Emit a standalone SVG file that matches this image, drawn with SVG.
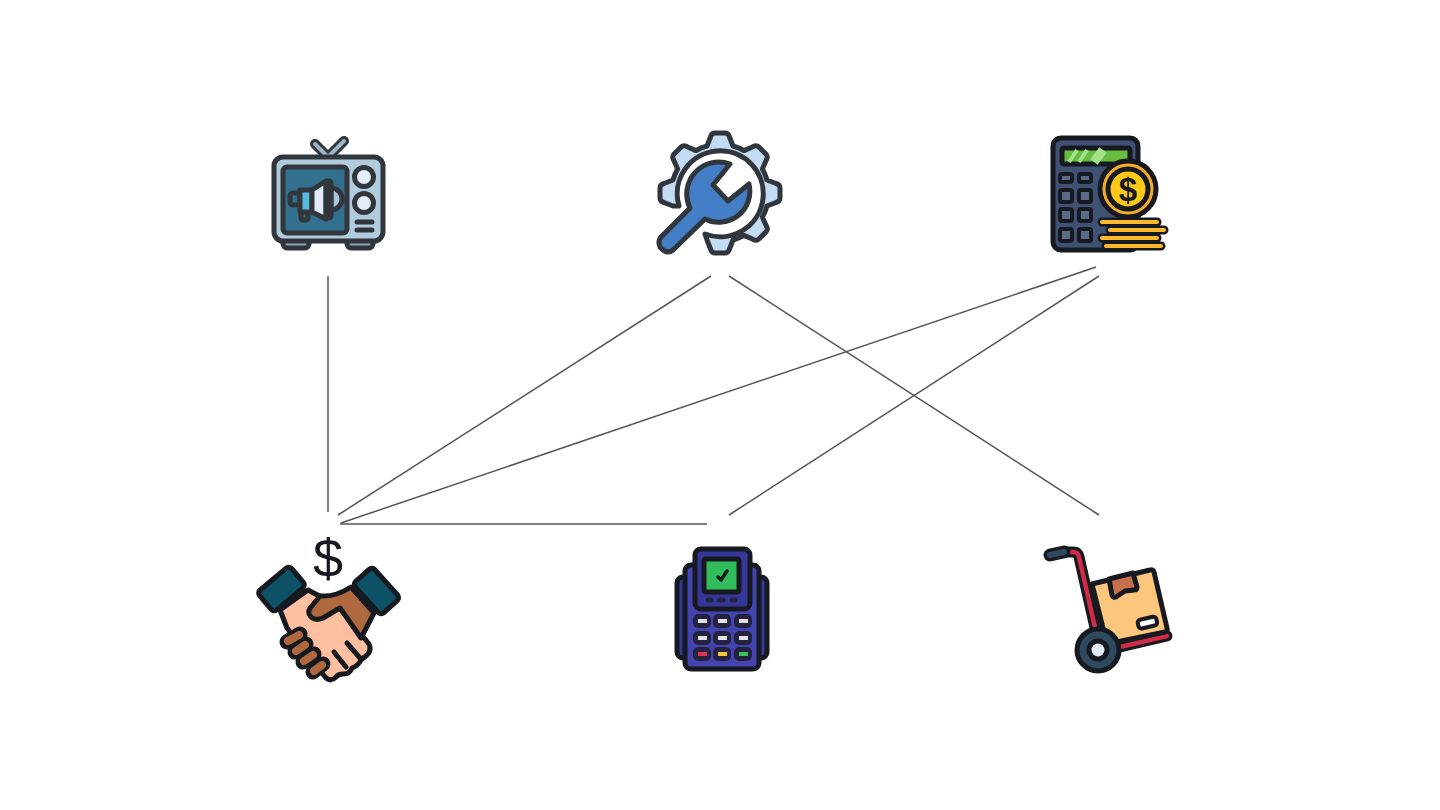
<svg xmlns="http://www.w3.org/2000/svg" width="1440" height="810" viewBox="0 0 1440 810">
<style>
.k{stroke:#30363c;stroke-width:5;stroke-linejoin:round;stroke-linecap:round}
.d{stroke:#16191f;stroke-width:5;stroke-linejoin:round;stroke-linecap:round}
.n{fill:none}
#connectors line{stroke:#555;stroke-width:1.5}
.coin{fill:none;stroke-linecap:round}
.btn{fill:#23233f}
</style>
<rect width="1440" height="810" fill="#fff"/>
<g id="connectors">
<line x1="328" y1="276" x2="328" y2="512"/>
<line x1="711" y1="276" x2="338" y2="515"/>
<line x1="729" y1="276" x2="1099" y2="515"/>
<line x1="1096" y1="267" x2="341" y2="523"/>
<line x1="1099" y1="276" x2="729" y2="515"/>
<line x1="340" y1="524" x2="707" y2="524"/>
</g>
<g id="tv">
<path d="M327 156L315 144M329 156L344 141" fill="none" stroke="#30363c" stroke-width="10" stroke-linecap="round"/>
<path d="M327 156L315 144M329 156L344 141" fill="none" stroke="#9eb6c4" stroke-width="4" stroke-linecap="round"/>
<rect class="k" x="283" y="237" width="26" height="11" rx="4" fill="#8ea3b0"/>
<rect class="k" x="347" y="237" width="26" height="11" rx="4" fill="#8ea3b0"/>
<rect class="k" x="274" y="157" width="109" height="84" rx="9" fill="#b0cbdb"/>
<rect class="k" x="283" y="167" width="64" height="66" rx="4" fill="#33708f"/>
<circle class="k" cx="364" cy="177" r="9.5" fill="#e3edf9"/>
<circle class="k" cx="364" cy="203" r="9.5" fill="#e3edf9"/>
<path class="k n" d="M357 222H372M357 230H372"/>
<path class="k" d="M331 188A11 11 0 0 1 331 210Z" fill="#a8c6d6"/>
<rect class="k" x="301" y="210" width="7" height="10" rx="2" fill="#33708f"/>
<rect class="k" x="290" y="193" width="10" height="12" rx="3" fill="#33708f"/>
<rect class="k" x="300" y="190" width="12" height="22" fill="#58b9df"/>
<path class="k" d="M312 190L326 181V219L312 212Z" fill="#e3edf9"/>
<rect class="k" x="326" y="181" width="5" height="37" rx="2" fill="#e3edf9"/>
</g>
<g id="gear" transform="translate(720 193)">
<path class="k" fill="#c3dcf3" d="M-47 13L-56 9.5Q-60 8.5 -60 5V-5Q-60 -8.5 -56 -9.5L-47 -13A49 49 0 0 1 -42.4 -24L-46.3 -32.9Q-48.4 -36.4 -46 -38.9L-38.9 -46Q-36.4 -48.4 -32.9 -46.3L-24 -42.4A49 49 0 0 1 -13 -47L-9.5 -56Q-8.5 -60 -5 -60H5Q8.5 -60 9.5 -56L13 -47A49 49 0 0 1 24 -42.4L32.9 -46.3Q36.4 -48.4 38.9 -46L46 -38.9Q48.4 -36.4 46.3 -32.9L42.4 -24A49 49 0 0 1 47 -13L56 -9.5Q60 -8.5 60 -5V5Q60 8.5 56 9.5L47 13A49 49 0 0 1 42.4 24L46.3 32.9Q48.4 36.4 46 38.9L38.9 46Q36.4 48.4 32.9 46.3L24 42.4A49 49 0 0 1 13 47L9.5 56Q8.5 60 5 60H-5Q-8.5 60 -9.5 56L-13 47L-15 41A43 43 0 1 0 -41 13Z"/>
<path class="k" fill="#437ec7" d="M10 -29L-7 -8L8 8L29 -9A31 31 0 0 1 -15 26L-47 57Q-53 62 -60 54Q-63 47 -57 42L-30 15A32 32 0 0 1 10 -29Z"/>
</g>
<g id="calc">
<rect class="d" x="1053" y="138" width="85" height="112" rx="8" fill="#3f5274"/>
<rect class="d" x="1062" y="148" width="68" height="16" rx="2" fill="#66bd3f"/>
<path d="M1069 162L1077 150M1079 162L1087 150" fill="none" stroke="#a5e08a" stroke-width="4"/>
<path d="M1094 162L1103 150" fill="none" stroke="#a5e08a" stroke-width="9"/>
<g fill="#5a6b88" class="d" style="stroke-width:4">
<rect x="1060" y="174" width="12" height="8" rx="2"/><rect x="1079" y="174" width="12" height="8" rx="2"/>
<rect x="1060" y="190" width="12" height="12" rx="2"/><rect x="1079" y="190" width="12" height="12" rx="2"/>
<rect x="1060" y="209" width="12" height="12" rx="2"/><rect x="1079" y="209" width="12" height="12" rx="2"/>
<rect x="1060" y="229" width="12" height="12" rx="2"/><rect x="1079" y="229" width="12" height="12" rx="2"/>
</g>
<circle class="d" cx="1128" cy="189" r="28" fill="#f5ac2b"/>
<circle class="d" cx="1128" cy="189" r="20" fill="#fdc917"/>
<text x="1128" y="201" text-anchor="middle" font-family="'Liberation Sans',Arial,sans-serif" font-size="33" font-weight="700" fill="#16191f">$</text>
<path class="coin" stroke="#16191f" stroke-width="9" d="M1102 222H1157M1110 230H1164M1102 238H1157M1106 246H1161"/>
<path class="coin" stroke="#fdb92a" stroke-width="4" d="M1102 222H1157M1110 230H1164M1102 238H1157M1106 246H1161"/>
</g>
<g id="handshake">
<text x="328" y="577" text-anchor="middle" font-family="'Liberation Sans',Arial,sans-serif" font-size="54" fill="#16191f">$</text>
<path class="d" fill="#ffbfa0" d="M280 610L308 590Q315 594 322 597L340 608L369 644Q372 650 367 655L361 660Q358 666 352 668Q350 674 343 674Q338 674 336 677Q331 682 326 678L287 628Z"/>
<path class="d" fill="#b0693f" d="M320 596Q336 597 351 587L374 613L361 638L340 608L323 618Q313 622 309 614Q308 610 311 607Z"/>
<path class="d n" d="M347 643L360 658M334 652L346 667"/>
<path d="M313 672L323 664M303 662L314 654M295 652L306 644M287 642L300 634" fill="none" stroke="#16191f" stroke-width="15" stroke-linecap="round"/>
<path d="M314 671L322 665" fill="none" stroke="#b0693f" stroke-width="8" stroke-linecap="round"/>
<path d="M304 661L313 655" fill="none" stroke="#b0693f" stroke-width="8" stroke-linecap="round"/>
<path d="M296 651L305 645" fill="none" stroke="#b0693f" stroke-width="8" stroke-linecap="round"/>
<path d="M288 641L299 635" fill="none" stroke="#b0693f" stroke-width="8" stroke-linecap="round"/>
<rect class="d" x="-21" y="-13" width="42" height="26" rx="4" fill="#0d5266" transform="translate(281.500 589) rotate(-40)"/>
<rect class="d" x="-21" y="-13" width="42" height="26" rx="4" fill="#0d5266" transform="translate(376.500 591) rotate(48)"/>
</g>
<g id="terminal">
<rect class="d" x="677" y="577" width="90" height="81" rx="6" fill="#37379a"/>
<rect class="d" x="685" y="565" width="74" height="104" rx="6" fill="#4444b0"/>
<rect class="d" x="695" y="549" width="55" height="60" rx="6" fill="#37379a"/>
<rect class="d" x="704" y="559" width="35" height="33" rx="2" fill="#31bd5c"/>
<path d="M718 577L721 580L727 571" fill="none" stroke="#16191f" stroke-width="3.500" stroke-linecap="round" stroke-linejoin="round"/>
<path d="M708 600H711M720 600H723M732 600H735" fill="none" stroke="#23233f" stroke-width="5" stroke-linecap="round"/>
<g class="btn">
<rect x="693" y="614" width="18" height="14" rx="5"/><rect x="713" y="614" width="18" height="14" rx="5"/><rect x="734" y="614" width="18" height="14" rx="5"/>
<rect x="693" y="631" width="18" height="14" rx="5"/><rect x="713" y="631" width="18" height="14" rx="5"/><rect x="734" y="631" width="18" height="14" rx="5"/>
<rect x="693" y="647" width="18" height="14" rx="5"/><rect x="713" y="647" width="18" height="14" rx="5"/><rect x="734" y="647" width="18" height="14" rx="5"/>
</g>
<g fill="#e2e2e8">
<rect x="698" y="619" width="9" height="4"/><rect x="718" y="619" width="9" height="4"/><rect x="739" y="619" width="9" height="4"/>
<rect x="698" y="636" width="9" height="4"/><rect x="718" y="636" width="9" height="4"/><rect x="739" y="636" width="9" height="4"/>
<rect x="698" y="652" width="9" height="4" fill="#e4304e"/><rect x="718" y="652" width="9" height="4" fill="#f6c23a"/><rect x="739" y="652" width="9" height="4" fill="#35c25f"/>
</g>
</g>
<g id="truck">
<path d="M1066 552H1073Q1078 552 1079 557L1096 632M1120 647L1167 636" fill="none" stroke="#16191f" stroke-width="11" stroke-linecap="round" stroke-linejoin="round"/>
<path d="M1066 552H1073Q1078 552 1079 557L1096 632M1120 647L1167 636" fill="none" stroke="#d22b48" stroke-width="4.500" stroke-linecap="round" stroke-linejoin="round"/>
<path d="M1050 555L1064 552" fill="none" stroke="#16191f" stroke-width="13" stroke-linecap="round"/>
<path d="M1050 555L1064 552" fill="none" stroke="#2f4a5f" stroke-width="6" stroke-linecap="round"/>
<path class="d" fill="#fcc67c" d="M1092 584L1150 570Q1153 569 1154 572L1167 628Q1168 631 1165 632L1107 644Z"/>
<path class="d" fill="#c8704d" d="M1109 579L1133 573L1137 587Q1137 590 1134 590L1125 591L1116 597Q1113 598 1112 595Z"/>
<rect class="d" x="1138" y="618" width="19" height="9" rx="3" fill="#fff" transform="rotate(-13 1148 623)" style="stroke-width:4"/>
<circle class="d" cx="1098" cy="650" r="21" fill="#2f4a5f"/>
<circle class="d" cx="1098" cy="650" r="9" fill="#e3edf9"/>
</g>
</svg>
